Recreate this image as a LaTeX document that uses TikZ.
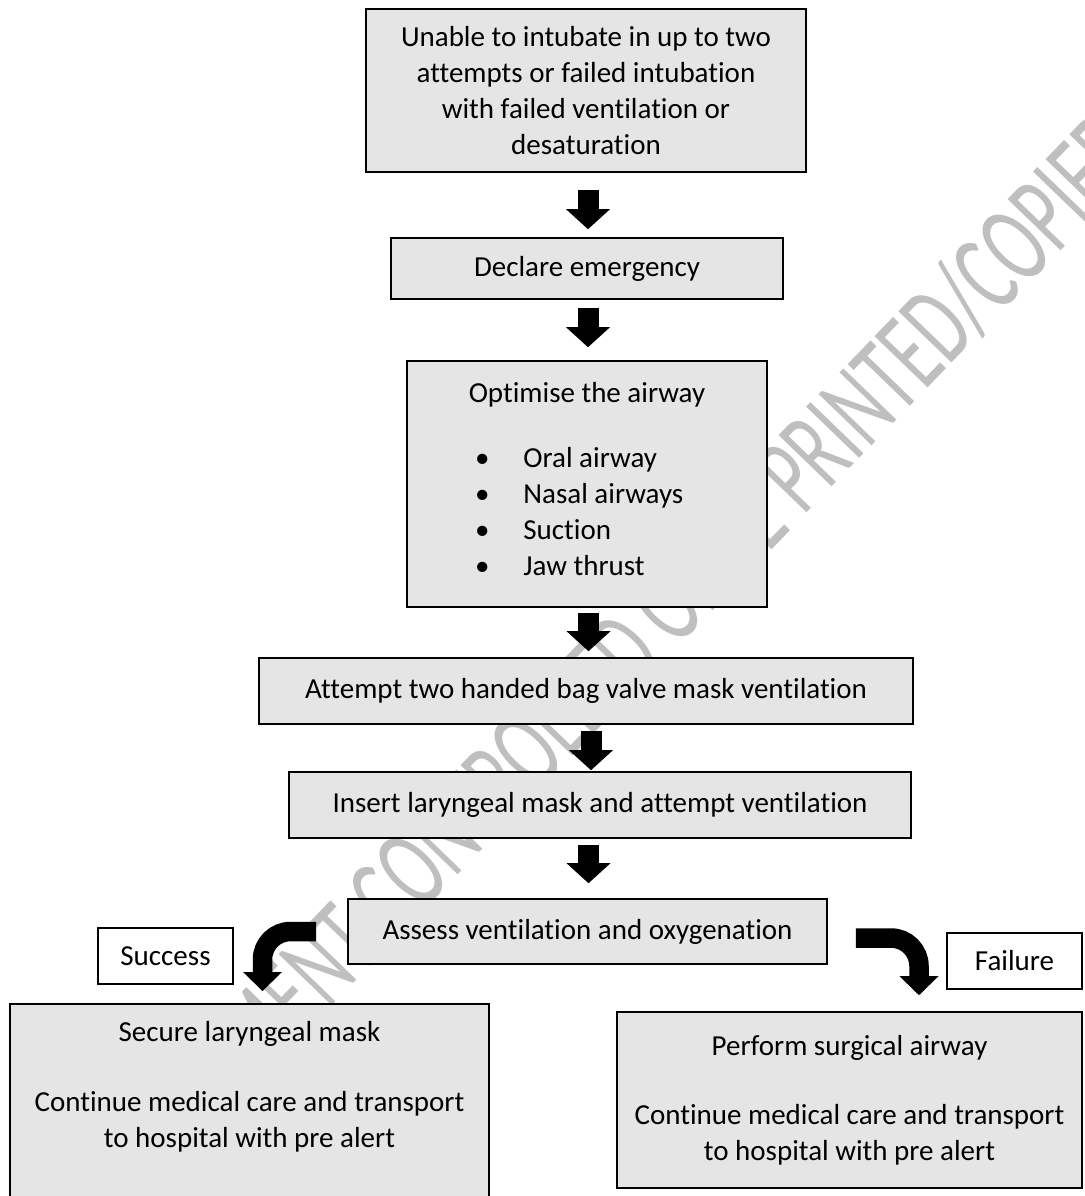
\documentclass[tikz,border=0pt]{standalone}
\usepackage{fontspec}
\setmainfont{Carlito}[Ligatures={TeX,NoCommon}]
\usepackage{graphicx}
\usetikzlibrary{arrows.meta}

\begin{document}
\begin{tikzpicture}[x=1pt,y=-1pt,
    box/.style={draw=black,line width=1.6pt,fill=gray!20,align=center,
      inner sep=0pt,font=\fontsize{29pt}{36pt}\selectfont},
    tagbox/.style={draw=black,line width=1.6pt,fill=white,
      minimum width=135pt,minimum height=56pt,inner sep=0pt,
      font=\fontsize{29pt}{36pt}\selectfont},
    bigarrow/.style={line width=21pt,
      -{Triangle[width=44pt,length=20pt,line width=0pt]}},
    bentarrow/.style={line width=19.5pt,rounded corners=28pt,
      -{Triangle[width=39pt,length=19pt,line width=0pt]}},
    stamp/.style={text=black!25,font=\fontsize{115pt}{115pt}\selectfont,rotate=46}]
  \useasboundingbox (0,0) rectangle (1084,1196);

  \node[stamp] (watermark) at (618,655)
    {\scalebox{0.62}[1]{DOCUMENT CONTROLLED ONCE PRINTED/COPIED}};

  \node[box,minimum width=440pt,minimum height=163pt] (unable) at (586,90.5)
    {Unable to intubate in up to two\\attempts or failed intubation\\with failed ventilation or\\desaturation};
  \node[box,minimum width=392pt,minimum height=61pt] (declare) at (587,268.5) {Declare emergency};
  \node[box,minimum width=360pt,minimum height=246pt] (optimise) at (587,484)
    {Optimise the airway\\[29pt]
     \makebox[224pt][l]{\begin{tabular}[t]{@{}l@{\hspace{34pt}}l@{}}
       \textbullet & Oral airway\\
       \textbullet & Nasal airways\\
       \textbullet & Suction\\
       \textbullet & Jaw thrust
     \end{tabular}}};
  \node[box,minimum width=654pt,minimum height=66pt] (attempt) at (586,691)
    {Attempt two handed bag valve mask ventilation};
  \node[box,minimum width=622pt,minimum height=66pt] (insert) at (600,805)
    {Insert laryngeal mask and attempt ventilation};
  \node[box,minimum width=479pt,minimum height=65pt] (assess) at (587.5,931.5)
    {Assess ventilation and oxygenation};
  \node[tagbox] (success) at (165.5,956) {Success};
  \node[tagbox] (failure) at (1014.5,961) {Failure};
  \node[box,anchor=north,minimum width=479pt,inner ysep=18pt,text depth=150pt] (secure) at (249.5,1003)
    {Secure laryngeal mask\\[34pt]Continue medical care and transport\\to hospital with pre alert};
  \node[box,minimum width=465pt,minimum height=176pt] (surgical) at (849.5,1100)
    {Perform surgical airway\\[33pt]Continue medical care and transport\\to hospital with pre alert};

  \draw[bigarrow,shorten <=17pt,shorten >=8pt] ([xshift=2pt]unable.south) -- ([xshift=1pt]declare.north);
  \draw[bigarrow,shorten <=8pt,shorten >=13pt] ([xshift=1pt]declare.south) -- ([xshift=1pt]optimise.north);
  \draw[bigarrow,shorten <=5pt,shorten >=6pt] ([xshift=1.5pt]optimise.south) -- ([xshift=2.5pt]attempt.north);
  \draw[bigarrow,shorten <=6pt,shorten >=1pt] ([xshift=5pt]attempt.south) -- ([xshift=-9pt]insert.north);
  \draw[bigarrow,shorten <=6pt,shorten >=15pt] ([xshift=-11.5pt]insert.south) -- ([xshift=1pt]assess.north);
  \draw[bentarrow] ([xshift=-31pt]assess.west) -| ([xshift=13pt,yshift=12pt]secure.north);
  \draw[bentarrow] ([xshift=28pt,yshift=-6.5pt]assess.east) -| ([xshift=69.5pt,yshift=16pt]surgical.north);
\end{tikzpicture}
\end{document}
